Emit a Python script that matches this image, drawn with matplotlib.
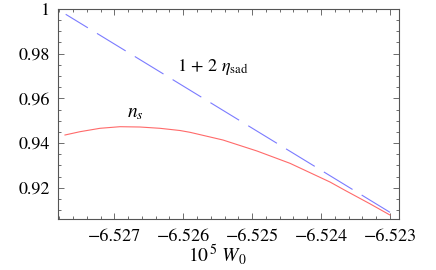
import numpy as np
import matplotlib
matplotlib.use('Agg')
import matplotlib.pyplot as plt
from matplotlib.ticker import MultipleLocator

plt.rcParams['font.family'] = ['STIXGeneral', 'DejaVu Serif']
plt.rcParams['mathtext.fontset'] = 'stix'
plt.rcParams['lines.scale_dashes'] = False

# values
ns_w0 = [-6.5277153, -6.5274977, -6.5272075, -6.5269173, -6.5266271,
         -6.526337, -6.5260468, -6.5259017, -6.5254229, -6.5249296,
         -6.5244508, -6.5238705, -6.5236529, -6.5232902, -6.523]
ns_val = [0.94359, 0.94507, 0.94659, 0.94731, 0.94717,
          0.94659, 0.94560, 0.94480, 0.94135, 0.93643,
          0.93092, 0.92255, 0.91883, 0.91279, 0.90777]

eta_w0 = [-6.527705, -6.523]
eta_val = [0.99763, 0.90898]

xticks = [-6.527, -6.526, -6.525, -6.524, -6.523]
yticks = [0.92, 0.94, 0.96, 0.98, 1.0]

fig = plt.figure(figsize=(4.36, 2.70), dpi=100)
ax = fig.add_axes([0.1330, 0.1907, 0.7814, 0.7760])

ax.plot(eta_w0, eta_val, color='#7b7bff', lw=0.8, ls=(5.5, (24.2, 7.7)))
ax.plot(ns_w0, ns_val, color='#ff6a6a', lw=0.8)

ax.set_xlim(-6.5278168, -6.5228738)
ax.set_ylim(0.90621, 1.0)

ax.set_xticks(xticks)
ax.set_xticklabels(['\u22126.527', '\u22126.526', '\u22126.525', '\u22126.524', '\u22126.523'])
ax.set_yticks(yticks)
ax.set_yticklabels(['0.92', '0.94', '0.96', '0.98', '1'])
ax.xaxis.set_minor_locator(MultipleLocator(0.0002))
ax.yaxis.set_minor_locator(MultipleLocator(0.005))

ax.tick_params(which='both', direction='in', top=True, right=True,
               color='#555555', width=0.6, labelsize=13)
ax.tick_params(axis='x', pad=7.5)
ax.tick_params(axis='y', pad=5.5)
ax.tick_params(which='major', length=4.5)
ax.tick_params(which='minor', length=2.5)
for sp in ax.spines.values():
    sp.set_color('#555555')
    sp.set_linewidth(0.8)

ax.text(-6.526095, 0.97238, r'$1\,+\,2\ \eta_{\mathrm{sad}}$', fontsize=13,
        ha='left', va='baseline')
ax.text(-6.52669, 0.9515, r'$n_s$', fontsize=14, ha='center', va='baseline')

fig.text(0.498, 0.032, r'$10^{\,5}\ W_0$', fontsize=14, ha='center', va='baseline')

fig.savefig('out.png', dpi=100)
